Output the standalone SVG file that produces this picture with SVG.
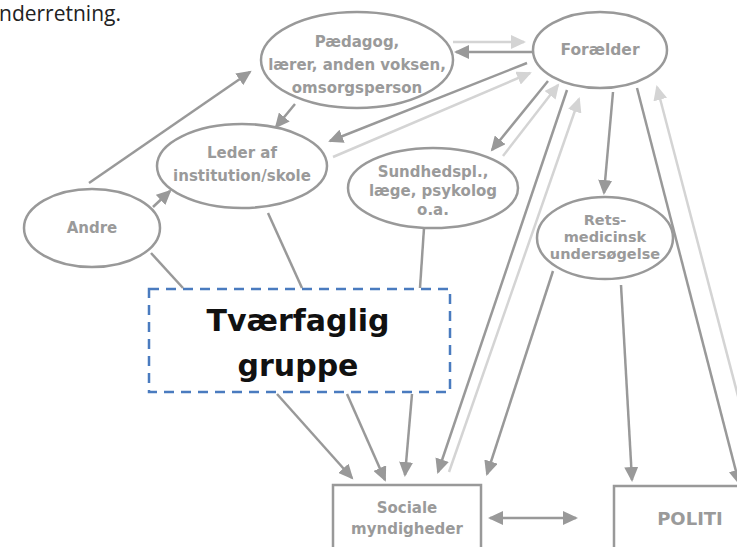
<svg xmlns="http://www.w3.org/2000/svg" width="737" height="547" viewBox="0 0 737 547">
<style>
.n ellipse,.n rect{fill:#fff;stroke:#999;stroke-width:2.5}
.n text{font-family:"DejaVu Sans","Open Sans",sans-serif;font-weight:bold;font-size:15px;fill:#9a9a9a;text-anchor:middle}
.d{stroke:#999;stroke-width:2.5;fill:none}
.l{stroke:#d4d4d4;stroke-width:2.5;fill:none}
.ad{marker-end:url(#ad)}
.al{marker-end:url(#al)}
</style>
<defs>
<marker id="ad" markerUnits="userSpaceOnUse" markerWidth="16" markerHeight="14" refX="13" refY="7" orient="auto"><path d="M0,0 L15,7 L0,14 z" fill="#999"/></marker>
<marker id="al" markerUnits="userSpaceOnUse" markerWidth="16" markerHeight="14" refX="13" refY="7" orient="auto"><path d="M0,0 L15,7 L0,14 z" fill="#d4d4d4"/></marker>
<marker id="as" markerUnits="userSpaceOnUse" markerWidth="16" markerHeight="14" refX="13" refY="7" orient="auto-start-reverse"><path d="M0,0 L15,7 L0,14 z" fill="#999"/></marker>
</defs>
<rect width="737" height="547" fill="#fff"/>
<text x="-1" y="21" font-family="'Open Sans','DejaVu Sans',sans-serif" font-size="21" fill="#222">nderretning.</text>

<g id="connectors">
<line class="d ad" x1="89" y1="183" x2="250" y2="72"/>
<line class="d ad" x1="153" y1="207" x2="170" y2="191"/>
<line class="d" x1="151" y1="253" x2="183" y2="288"/>
<line class="d ad" x1="295" y1="104" x2="276" y2="127"/>
<line class="d ad" x1="534" y1="52" x2="456" y2="52"/>
<line class="l al" x1="453" y1="42" x2="524" y2="42"/>
<line class="d ad" x1="527" y1="63" x2="330" y2="141"/>
<line class="l al" x1="333" y1="157" x2="530" y2="73"/>
<line class="d ad" x1="548" y1="81" x2="492" y2="150"/>
<line class="l al" x1="503" y1="156" x2="558" y2="85"/>
<line class="d ad" x1="567" y1="90" x2="438" y2="472"/>
<line class="l al" x1="449" y1="472" x2="579" y2="99"/>
<line class="d" x1="424" y1="228" x2="420" y2="288"/>
<line class="d" x1="268" y1="213" x2="302" y2="288"/>
<line class="d ad" x1="613" y1="92" x2="604" y2="193"/>
<line class="d ad" x1="637" y1="88" x2="739" y2="483"/>
<line class="l al" x1="760" y1="480" x2="657" y2="87"/>
<line class="d ad" x1="553" y1="271" x2="487" y2="474"/>
<line class="d ad" x1="621" y1="285" x2="632" y2="480"/>
<line class="d ad" x1="277" y1="394" x2="352" y2="478"/>
<line class="d ad" x1="347" y1="394" x2="385" y2="480"/>
<line class="d ad" x1="412" y1="394" x2="405" y2="475"/>
<line class="d" x1="490" y1="518" x2="576" y2="518" marker-start="url(#as)" marker-end="url(#as)"/>
</g>

<g id="paedagog" class="n">
<ellipse cx="357" cy="60" rx="96" ry="48"/>
<text x="357" y="47">Pædagog,</text>
<text x="357" y="70">lærer, anden voksen,</text>
<text x="357" y="93">omsorgsperson</text>
</g>
<g id="foraelder" class="n">
<ellipse cx="600" cy="50" rx="67" ry="38"/>
<text x="600" y="55" style="font-size:15.5px">Forælder</text>
</g>
<g id="leder" class="n">
<ellipse cx="242" cy="166" rx="85" ry="42"/>
<text x="242" y="158">Leder af</text>
<text x="242" y="181">institution/skole</text>
</g>
<g id="sundhed" class="n">
<ellipse cx="433" cy="188" rx="85" ry="40"/>
<text x="433" y="177">Sundhedspl.,</text>
<text x="433" y="196">læge, psykolog</text>
<text x="433" y="215">o.a.</text>
</g>
<g id="andre" class="n">
<ellipse cx="92" cy="228" rx="68" ry="39"/>
<text x="92" y="233">Andre</text>
</g>
<g id="rets" class="n">
<ellipse cx="605" cy="238" rx="68" ry="41"/>
<text x="605" y="225" style="font-size:14.5px">Rets-</text>
<text x="605" y="242" style="font-size:14.5px">medicinsk</text>
<text x="605" y="259" style="font-size:14.5px">undersøgelse</text>
</g>
<g id="tvaerfaglig">
<rect x="149" y="289" width="301" height="103" fill="#fff" stroke="#4a7bbf" stroke-width="2.5" stroke-dasharray="10,7"/>
<text x="298" y="331" font-family="'DejaVu Sans','Open Sans',sans-serif" font-weight="bold" font-size="30" fill="#111" text-anchor="middle">Tværfaglig</text>
<text x="298" y="376" font-family="'DejaVu Sans','Open Sans',sans-serif" font-weight="bold" font-size="30" fill="#111" text-anchor="middle">gruppe</text>
</g>
<g id="sociale" class="n">
<rect x="333" y="485" width="148" height="80"/>
<text x="407" y="513">Sociale</text>
<text x="407" y="534">myndigheder</text>
</g>
<g id="politi" class="n">
<rect x="614" y="486" width="140" height="80"/>
<text x="690" y="525" style="font-size:18px">POLITI</text>
</g>
</svg>
